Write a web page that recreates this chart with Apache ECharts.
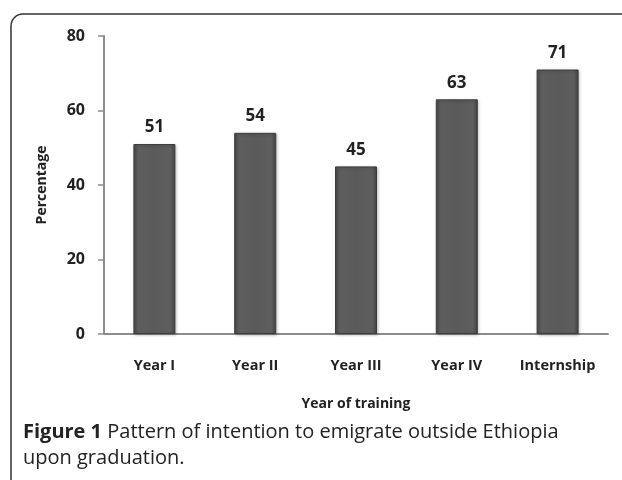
<!DOCTYPE html>
<html>
<head>
<meta charset="utf-8">
<script src="https://cdn.jsdelivr.net/npm/echarts@6/dist/echarts.min.js"></script>
<style>
html,body{margin:0;padding:0;background:#fff;}
#c{width:622px;height:480px;}
</style>
</head>
<body>
<div id="c"></div>
<script>
var categories = ['Year I', 'Year II', 'Year III', 'Year IV', 'Internship'];
var values = [51, 54, 45, 63, 71];
var yTicks = [0, 20, 40, 60, 80];
var xTitle = 'Year of training';
var yTitle = 'Percentage';
var captionBold = 'Figure 1';
var captionRest1 = ' Pattern of intention to emigrate outside Ethiopia';
var captionLine2 = 'upon graduation.';

var chart = echarts.init(document.getElementById('c'), null, {renderer: 'canvas'});
var labelFont = '"Open Sans", sans-serif';
chart.setOption({
  backgroundColor: '#fff',
  animation: false,
  grid: {left: 104, right: 14, top: 36, bottom: 146, containLabel: false},
  xAxis: {
    type: 'category',
    data: categories,
    name: xTitle,
    nameLocation: 'middle',
    nameGap: 63,
    nameTextStyle: {fontFamily: labelFont, fontWeight: 'bold', fontSize: 14, color: '#222'},
    axisLine: {lineStyle: {color: '#8c8c8c', width: 2}},
    axisTick: {show: false},
    axisLabel: {fontFamily: labelFont, fontWeight: 'bold', fontSize: 14.5, color: '#222', margin: 24}
  },
  yAxis: {
    type: 'value',
    min: yTicks[0],
    max: yTicks[yTicks.length - 1],
    interval: 20,
    name: yTitle,
    nameLocation: 'middle',
    nameGap: 55,
    nameRotate: 90,
    nameTextStyle: {fontFamily: labelFont, fontWeight: 'bold', fontSize: 14, color: '#222'},
    axisLine: {show: true, lineStyle: {color: '#8c8c8c', width: 2}},
    axisTick: {show: true, length: 6, lineStyle: {color: '#8c8c8c', width: 1.5}},
    splitLine: {show: false},
    axisLabel: {fontFamily: labelFont, fontWeight: 'bold', fontSize: 16, color: '#222', margin: 19}
  },
  series: [{
    type: 'bar',
    data: values,
    barWidth: 42,
    itemStyle: {
      color: {
        type: 'linear', x: 0, y: 0, x2: 1, y2: 0,
        colorStops: [
          {offset: 0, color: '#4a4a4a'},
          {offset: 0.12, color: '#5e5e5e'},
          {offset: 0.5, color: '#5a5a5a'},
          {offset: 0.88, color: '#5e5e5e'},
          {offset: 1, color: '#444'}
        ]
      },
      borderColor: '#3d3d3d',
      borderWidth: 1,
      shadowColor: 'rgba(0,0,0,0.25)',
      shadowBlur: 3,
      shadowOffsetX: 1,
      shadowOffsetY: 1
    },
    label: {
      show: true,
      position: 'top',
      distance: 8,
      fontFamily: labelFont,
      fontWeight: 'bold',
      fontSize: 17,
      color: '#222'
    }
  }],
  graphic: [
    {
      type: 'rect',
      shape: {x: 11, y: 14, width: 700, height: 600, r: 12},
      style: {fill: 'none', stroke: '#333', lineWidth: 1.5},
      silent: true,
      z: 100
    },
    {
      type: 'text',
      left: 23,
      top: 422,
      style: {
        text: '{b|' + captionBold + '}{n|' + captionRest1 + '}\n{n|' + captionLine2 + '}',
        rich: {
          b: {fontFamily: '"Open Sans", sans-serif', fontWeight: 'bold', fontSize: 20, fill: '#222', lineHeight: 26},
          n: {fontFamily: '"Open Sans", sans-serif', fontSize: 20, fill: '#222', lineHeight: 26}
        }
      }
    }
  ]
});
</script>
</body>
</html>
